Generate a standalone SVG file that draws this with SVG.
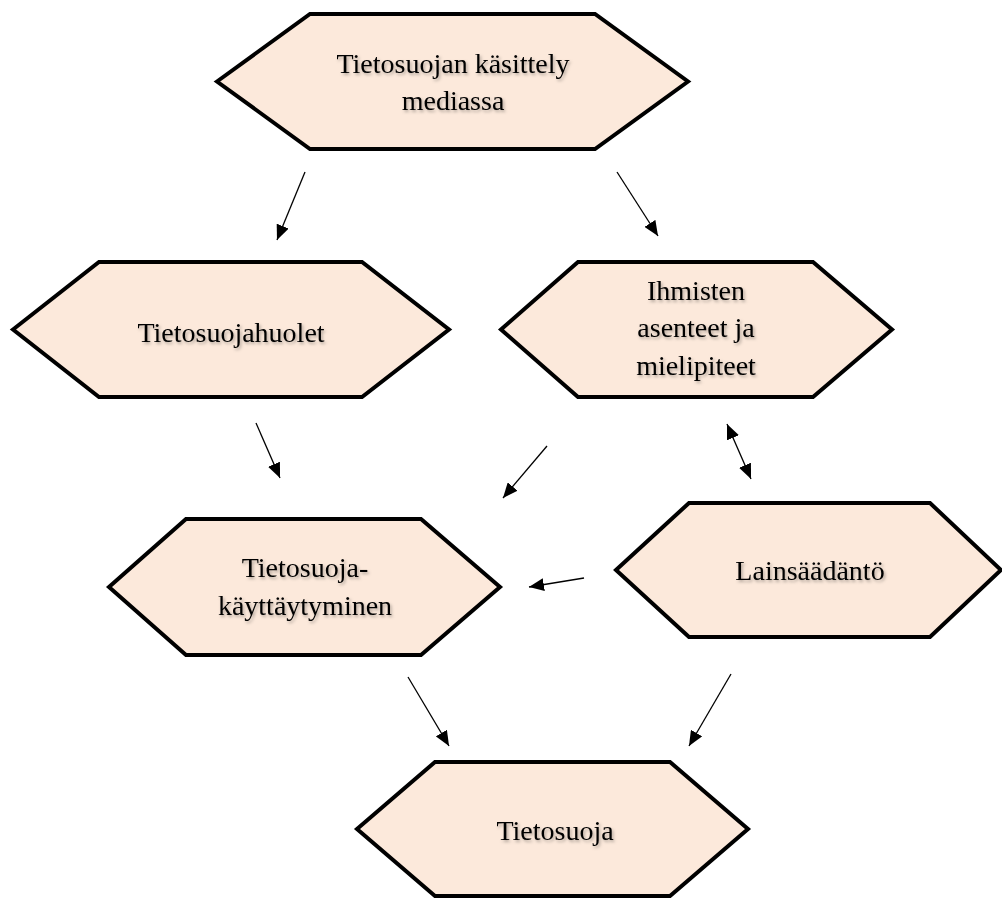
<svg xmlns="http://www.w3.org/2000/svg" width="1002" height="898" viewBox="0 0 1002 898">
  <style>
    .hex { fill: #FCE9DB; stroke: #000; stroke-width: 4; stroke-linejoin: miter; }
    .lbl { font-family: "Liberation Serif", "Times New Roman", serif; font-size: 28px; fill: #000; text-anchor: middle; filter: url(#shadow); }
    .edge { stroke: #000; stroke-width: 1.3; fill: none; marker-end: url(#arrow); }
  </style>
  <defs>
    <marker id="arrow" markerUnits="userSpaceOnUse" markerWidth="16" markerHeight="13" refX="15" refY="6.5" orient="auto-start-reverse" viewBox="0 0 16 13">
      <path d="M0,0 L15,6.5 L0,13 z" fill="#000"/>
    </marker>
    <filter id="shadow" x="-10%" y="-30%" width="120%" height="160%">
      <feDropShadow dx="1.5" dy="2" stdDeviation="1.5" flood-color="#000" flood-opacity="0.3"/>
    </filter>
  </defs>
  <rect width="1002" height="898" fill="#fff"/>

  <g id="node-media">
    <polygon class="hex" points="217,81.5 310,14 595,14 688,81.5 595,149 310,149"/>
    <text class="lbl" x="453" y="73">Tietosuojan käsittely</text>
    <text class="lbl" x="453" y="110">mediassa</text>
  </g>

  <g id="node-huolet">
    <polygon class="hex" points="13,329.5 99,262 362,262 449,329.5 362,397 99,397"/>
    <text class="lbl" x="231" y="342">Tietosuojahuolet</text>
  </g>

  <g id="node-asenteet">
    <polygon class="hex" points="501,329.5 578,262 813,262 892,329.5 813,397 578,397"/>
    <text class="lbl" x="696" y="300">Ihmisten</text>
    <text class="lbl" x="696" y="337">asenteet ja</text>
    <text class="lbl" x="696" y="375">mielipiteet</text>
  </g>

  <g id="node-kayttaytyminen">
    <polygon class="hex" points="109,587 186,519 421,519 500,587 421,655 186,655"/>
    <text class="lbl" x="305" y="577">Tietosuoja-</text>
    <text class="lbl" x="305" y="615">käyttäytyminen</text>
  </g>

  <g id="node-lainsaadanto">
    <polygon class="hex" points="616,570 689,503 930,503 1001,570 930,637 689,637"/>
    <text class="lbl" x="810" y="580">Lainsäädäntö</text>
  </g>

  <g id="node-tietosuoja">
    <polygon class="hex" points="357,829 435,762 670,762 748,829 670,896 435,896"/>
    <text class="lbl" x="555" y="840">Tietosuoja</text>
  </g>

  <g id="connectors">
    <line class="edge" x1="305" y1="172" x2="277" y2="240"/>
    <line class="edge" x1="617" y1="172" x2="658" y2="236"/>
    <line class="edge" x1="256" y1="423" x2="280" y2="478"/>
    <line class="edge" x1="547" y1="446" x2="503" y2="498"/>
    <line class="edge" x1="727" y1="424" x2="751" y2="479" marker-start="url(#arrow)"/>
    <line class="edge" x1="584" y1="578" x2="529" y2="587"/>
    <line class="edge" x1="408" y1="677" x2="449" y2="746"/>
    <line class="edge" x1="731" y1="674" x2="689" y2="746"/>
  </g>
</svg>
